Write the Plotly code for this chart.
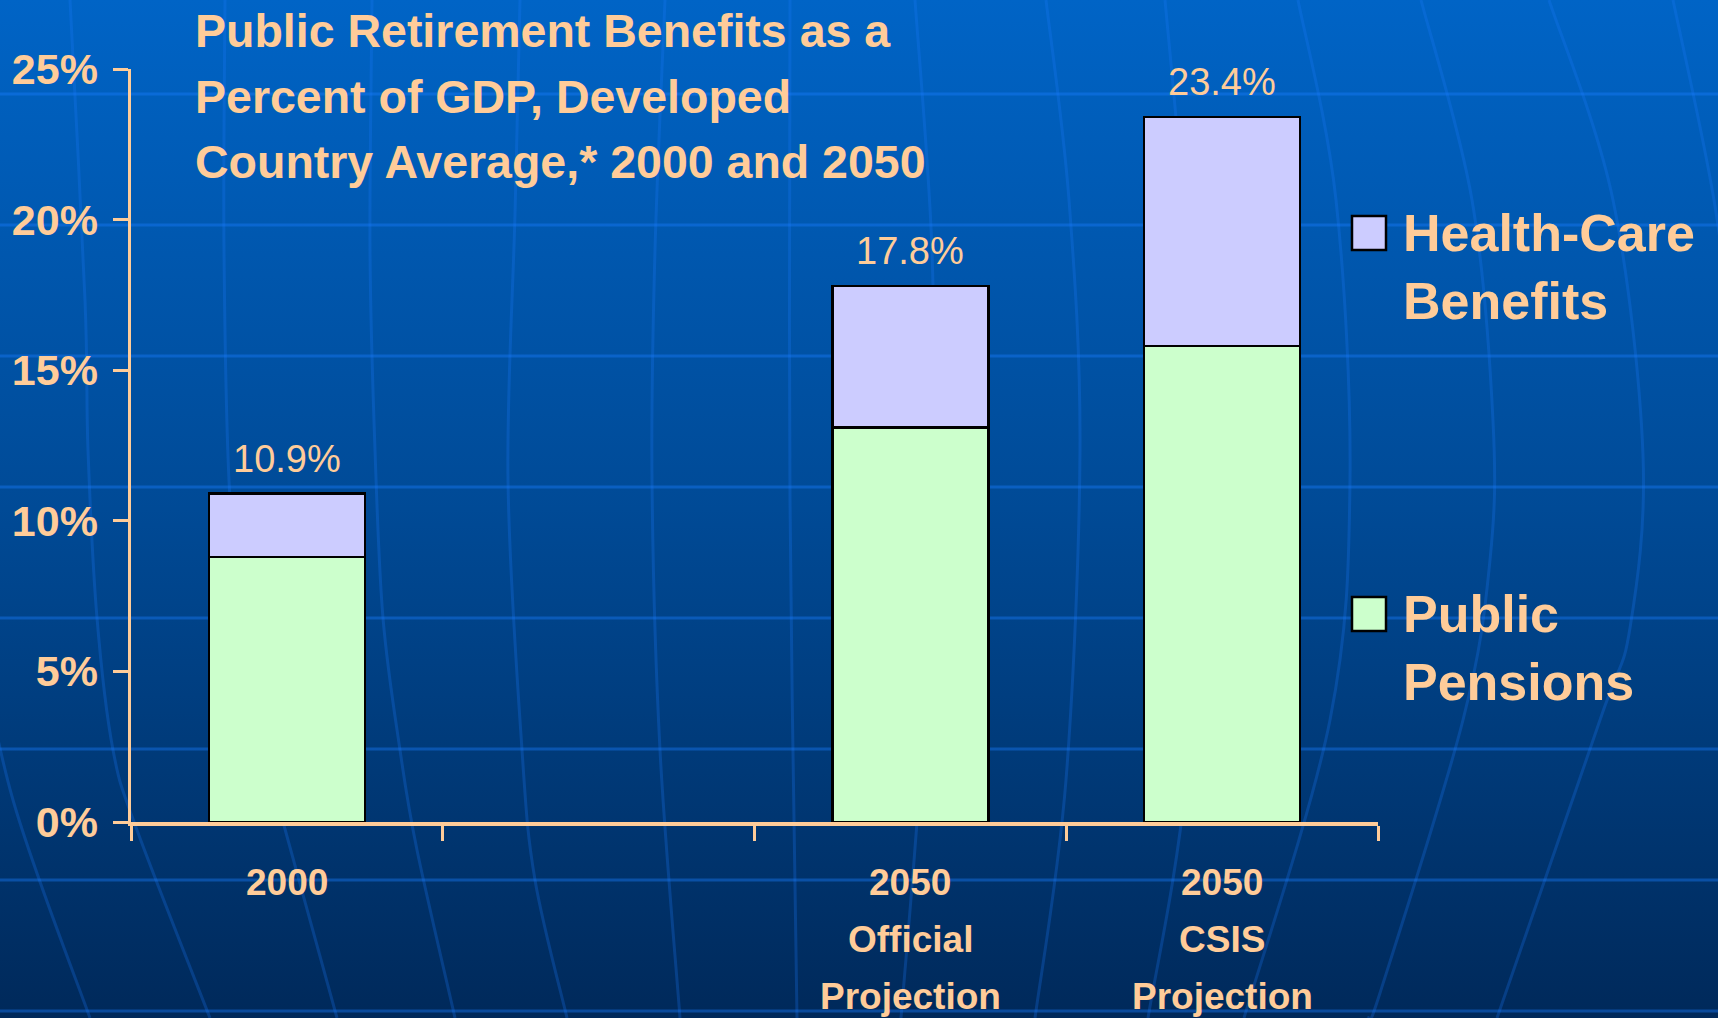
import base64
import plotly.graph_objects as go

# ---------------- data ----------------
categories = ["2000", "gap", "2050 Official", "2050 CSIS"]
tick_label_lines = [["2000"], [], ["2050", "Official", "Projection"], ["2050", "CSIS", "Projection"]]
series_names = ["Public Pensions", "Health-Care Benefits"]
legend_labels = ["Public<br>Pensions", "Health-Care<br>Benefits"]
public_pensions = [8.8, None, 13.1, 15.8]
health_care = [2.1, None, 4.7, 7.6]
y_ticks = [0, 5, 10, 15, 20, 25]
y_tick_labels = ["%d%%" % v for v in y_ticks]
title_lines = ["Public Retirement Benefits as a",
               "Percent of GDP, Developed",
               "Country Average,* 2000 and 2050"]

# ---------------- style ----------------
W, H = 1718, 1018
L, R, T, B = 131, 340, 69, 196
PW, PH = W - L - R, H - T - B
PEACH = "#FFCC99"
FONT = "Liberation Sans, Arial, sans-serif"
COLORS = ["#CCFFCC", "#CCCCFF"]


def px2x(px):
    return (px - L) / PW


def px2y(py):
    return (H - B - py) / PH


# ---------------- background (gradient + globe grid) ----------------
def smooth_path(pts):
    p = [pts[0]] + pts + [pts[-1]]
    d = "M %.1f %.1f " % pts[0]
    for i in range(1, len(p) - 2):
        p0, p1, p2, p3 = p[i - 1], p[i], p[i + 1], p[i + 2]
        c1 = (p1[0] + (p2[0] - p0[0]) / 6, p1[1] + (p2[1] - p0[1]) / 6)
        c2 = (p2[0] - (p3[0] - p1[0]) / 6, p2[1] - (p3[1] - p1[1]) / 6)
        d += "C %.1f %.1f %.1f %.1f %.1f %.1f " % (c1 + c2 + p2)
    return d


meridians = [
    [(-30, 600), (13, 800), (90, 1018)],
    [(70, 0), (85, 300), (88, 450), (97, 618), (113, 750), (137, 830), (210, 1018)],
    [(225, 0), (224, 250), (230, 500), (250, 700), (277, 800), (337, 1018)],
    [(372, 0), (370, 250), (375, 450), (383, 618), (400, 750), (417, 850), (455, 1018)],
    [(520, 0), (515, 214), (508, 480), (522, 750), (535, 880), (567, 1018)],
    [(665, 0), (655, 250), (652, 480), (660, 750), (680, 1018)],
    [(790, 0), (790, 500), (797, 1018)],
    [(915, 0), (932, 250), (934, 520), (920, 780), (901, 1018)],
    [(1046, 0), (1069, 200), (1080, 450), (1066, 780), (1035, 1018)],
    [(1165, 0), (1183, 200), (1200, 450), (1186, 780), (1148, 1018)],
    [(1298, 0), (1336, 200), (1350, 480), (1330, 720), (1244, 1018)],
    [(1421, 0), (1472, 200), (1493, 421), (1490, 560), (1463, 720), (1380, 993), (1368, 1018)],
    [(1549, 0), (1613, 200), (1643, 455), (1630, 628), (1600, 720), (1497, 1018)],
    [(1673, 0), (1714, 200), (1740, 400)],
]
h_lines = [94, 225, 356, 487, 618, 749, 880, 1011]

svg = ['<svg xmlns="http://www.w3.org/2000/svg" width="%d" height="%d" viewBox="0 0 %d %d" preserveAspectRatio="none">' % (W, H, W, H),
       '<defs><linearGradient id="g" x1="0" y1="0" x2="0" y2="1">'
       '<stop offset="0" stop-color="#0064C6"/><stop offset="0.5" stop-color="#004A96"/>'
       '<stop offset="1" stop-color="#00295A"/></linearGradient>'
       '<linearGradient id="m" x1="0" y1="0" x2="0" y2="1" gradientUnits="userSpaceOnUse" x2u="0">'
       '</linearGradient></defs>',
       '<rect x="0" y="0" width="%d" height="%d" fill="url(#g)"/>' % (W, H)]
for y in h_lines:
    svg.append('<line x1="0" y1="%d" x2="%d" y2="%d" stroke="#1A7CFF" stroke-opacity="0.4" stroke-width="3"/>' % (y, W, y))
for m in meridians:
    svg.append('<path d="%s" fill="none" stroke="#1A7CFF" stroke-opacity="0.25" stroke-width="3"/>' % smooth_path(m))
svg.append('</svg>')
svg_uri = "data:image/svg+xml;base64," + base64.b64encode("".join(svg).encode()).decode()

# ---------------- figure ----------------
fig = go.Figure()
for name, vals, col in zip(series_names, [public_pensions, health_care], COLORS):
    fig.add_trace(go.Bar(x=categories, y=vals, name=name,
                         marker=dict(color=col, line=dict(color="black", width=2.5)),
                         showlegend=False, hoverinfo="skip"))

annotations = []
# totals above bars (x given as category index)
for i, (p, h) in enumerate(zip(public_pensions, health_care)):
    if p is None:
        continue
    tot = p + h
    annotations.append(dict(x=i, y=tot, xref="x", yref="y", text="%.1f%%" % tot,
                            showarrow=False, yanchor="bottom", yshift=12,
                            font=dict(family=FONT, size=38, color=PEACH)))
# x category labels (one annotation per line)
for i, lines in enumerate(tick_label_lines):
    for j, ln in enumerate(lines):
        annotations.append(dict(x=i, y=0, xref="x", yref="paper", text="<b>%s</b>" % ln,
                                showarrow=False, yanchor="middle", yshift=-60 - 57 * j,
                                font=dict(family=FONT, size=37, color=PEACH)))
# title
for j, ln in enumerate(title_lines):
    annotations.append(dict(x=px2x(193), y=px2y(31 + 65.7 * j), xref="paper", yref="paper",
                            text="<b>%s</b>" % ln, showarrow=False, xanchor="left", yanchor="middle",
                            font=dict(family=FONT, size=46.5, color=PEACH)))
# legend
shapes = []
leg_centers = [648, 267]
for lab, col, cy in zip(legend_labels, COLORS, leg_centers):
    sq_cy = cy - 34
    shapes.append(dict(type="rect", xref="paper", yref="paper",
                       x0=px2x(1352), x1=px2x(1386), y0=px2y(sq_cy - 17), y1=px2y(sq_cy + 17),
                       fillcolor=col, line=dict(color="black", width=2.5), layer="above"))
    annotations.append(dict(x=px2x(1401), y=px2y(cy), xref="paper", yref="paper",
                            text="<b>%s</b>" % lab, showarrow=False, xanchor="left", yanchor="middle",
                            align="left", font=dict(family=FONT, size=52, color=PEACH)))

fig.update_layout(
    width=W, height=H,
    margin=dict(l=L, r=R, t=T, b=B, pad=0, autoexpand=False),
    paper_bgcolor="#004A96", plot_bgcolor="rgba(0,0,0,0)",
    barmode="stack", bargap=0.5,
    showlegend=False,
    annotations=annotations, shapes=shapes,
    images=[dict(source=svg_uri, xref="paper", yref="paper",
                 x=-L / PW, y=1 + T / PH, sizex=W / PW, sizey=H / PH,
                 xanchor="left", yanchor="top", sizing="stretch", layer="below")],
    xaxis=dict(type="category", categoryorder="array", categoryarray=categories,
               range=[-0.5, len(categories) - 0.5], tickson="boundaries", automargin=False,
               showticklabels=False, ticks="outside", ticklen=15, tickwidth=3, tickcolor=PEACH,
               showline=True, linecolor=PEACH, linewidth=3.5, showgrid=False, zeroline=False,
               fixedrange=True),
    yaxis=dict(range=[0, 25], tickmode="array", tickvals=y_ticks, ticktext=y_tick_labels,
               automargin=False,
               ticks="outside", ticklen=15, tickwidth=3, tickcolor=PEACH,
               tickfont=dict(family=FONT, size=43, color=PEACH, weight="bold"),
               ticklabelstandoff=6,
               showline=True, linecolor=PEACH, linewidth=3.5, showgrid=False, zeroline=False,
               fixedrange=True),
)

fig.write_html("out.html", config={"displayModeBar": False, "staticPlot": True},
               post_script="document.body.style.margin='0';")
